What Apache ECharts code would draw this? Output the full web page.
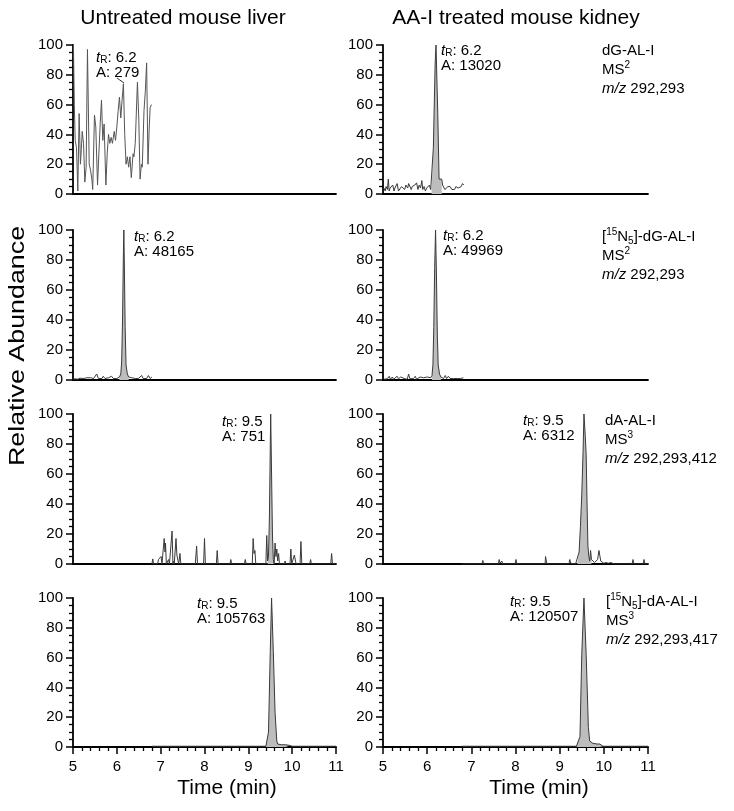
<!DOCTYPE html>
<html><head><meta charset="utf-8">
<script src="https://cdn.jsdelivr.net/npm/echarts@6/dist/echarts.min.js"></script>
<style>html,body{margin:0;padding:0;background:#fff}#c{width:734px;height:811px}</style>
</head><body><div id="c"></div>
<script>
// ---------- DATA ----------
const xTicks = [5, 6, 7, 8, 9, 10, 11];
const yTicks = [0, 20, 40, 60, 80, 100];
const columnTitles = ['Untreated mouse liver', 'AA-I treated mouse kidney'];

// Row 1: dG-AL-I, MS2
const liverDG = [[5.01,100],[5.03,60],[5.05,36],[5.08,31],[5.11,2],[5.14,54],[5.17,20],[5.19,30],[5.21,42],[5.24,34],[5.27,8],[5.30,18],[5.33,97],[5.37,20],[5.40,16],[5.43,10],[5.45,3],[5.49,53],[5.52,45],[5.56,6],[5.59,27],[5.62,47],[5.65,63],[5.68,36],[5.71,47],[5.75,6],[5.78,27],[5.81,40],[5.84,34],[5.87,38],[5.90,34],[5.94,42],[5.97,36],[6.00,45],[6.03,56],[6.06,65],[6.09,51],[6.12,63],[6.15,74],[6.18,40],[6.21,20],[6.24,25],[6.27,18],[6.30,25],[6.33,11],[6.37,27],[6.39,25],[6.42,34],[6.47,75],[6.50,51],[6.53,10],[6.56,20],[6.58,18],[6.62,56],[6.65,69],[6.68,88],[6.71,20],[6.74,45],[6.76,58],[6.79,60]];
const kidneyDG = [[5.02,4],[5.05,2],[5.07,5],[5.10,3],[5.12,10],[5.14,2],[5.16,4],[5.19,3],[5.22,6],[5.25,2],[5.27,4],[5.30,3],[5.32,7],[5.35,2],[5.38,3],[5.42,5],[5.46,5],[5.49,3],[5.52,6],[5.56,4],[5.58,7],[5.61,8],[5.64,3],[5.66,5],[5.69,4],[5.72,6],[5.76,7.5],[5.79,3],[5.82,6],[5.85,4],[5.88,9],[5.90,3],[5.93,5],[5.96,2],[5.99,4],[6.02,5],[6.05,6],[6.08,3],[6.10,4],[6.14,31],[6.18,87],[6.20,100],[6.24,54],[6.27,10],[6.30,9],[6.33,10],[6.35,6],[6.37,5],[6.40,3],[6.44,3],[6.47,5],[6.50,4],[6.52,5],[6.56,3],[6.59,4],[6.62,3],[6.65,5],[6.67,6],[6.70,4],[6.74,3],[6.77,5],[6.80,7],[6.83,6]];

// Row 2: [15N5]-dG-AL-I, MS2
const liverDGN = [[5.00,0.5],[5.05,0.8],[5.10,0.5],[5.16,1.2],[5.20,0.5],[5.25,1],[5.31,1.5],[5.35,0.8],[5.40,1.5],[5.43,2],[5.47,1],[5.50,1.5],[5.54,4],[5.58,1],[5.62,2],[5.66,1],[5.69,2.5],[5.73,1],[5.77,1.5],[5.81,1.5],[5.85,1],[5.88,2.5],[5.92,1],[5.96,2],[6.00,1],[6.04,1.5],[6.06,2],[6.09,4],[6.11,12],[6.13,40],[6.15,85],[6.16,100],[6.17,80],[6.19,35],[6.21,10],[6.24,4],[6.27,2],[6.30,1],[6.34,1.5],[6.38,0.8],[6.42,1],[6.45,2],[6.49,1],[6.53,1],[6.57,3],[6.60,1],[6.64,2],[6.68,1],[6.72,3],[6.76,1],[6.80,2]];
const kidneyDGN = [[5.02,0.5],[5.06,1],[5.10,0.8],[5.14,2.5],[5.17,0.5],[5.21,2],[5.24,0.5],[5.28,1.5],[5.32,2.5],[5.35,0.8],[5.40,2],[5.44,1],[5.48,1],[5.52,2],[5.55,0.5],[5.58,4],[5.61,0.8],[5.65,1.5],[5.69,1],[5.73,2.5],[5.76,0.5],[5.80,1.5],[5.84,2],[5.88,1],[5.92,1.5],[5.96,1],[6.00,2],[6.04,1],[6.08,1.5],[6.11,3],[6.13,10],[6.15,35],[6.17,75],[6.19,100],[6.21,70],[6.23,30],[6.25,10],[6.28,4],[6.31,2],[6.34,2.5],[6.37,1],[6.41,3],[6.44,1],[6.48,2.5],[6.52,1],[6.56,2],[6.60,1],[6.64,1.5],[6.68,1],[6.72,2],[6.76,1],[6.82,1.5]];

// Row 3: dA-AL-I, MS3
const liverDA = [[6.80,0],[6.82,3.4],[6.84,0],[6.93,0],[6.95,3],[6.97,4],[6.99,3],[7.01,5],[7.03,0],[7.06,0],[7.08,17],[7.10,8],[7.11,14],[7.13,0],[7.16,0],[7.18,3],[7.20,0],[7.24,0],[7.26,22],[7.28,0],[7.29,2],[7.31,0],[7.33,0],[7.35,17],[7.37,6],[7.39,7],[7.41,0],[7.42,2],[7.44,7],[7.46,0],[7.79,0],[7.82,12],[7.84,0],[7.98,0],[8.00,17],[8.02,0],[8.27,0],[8.29,9],[8.31,0],[8.58,0],[8.60,3],[8.62,0],[8.91,0],[8.93,3],[8.95,0],[9.09,0],[9.11,17],[9.13,7],[9.15,9],[9.17,0],[9.40,0],[9.42,19],[9.44,2],[9.46,5],[9.48,30],[9.51,100],[9.53,60],[9.55,20],[9.57,3],[9.59,0],[9.61,14],[9.63,5],[9.65,10],[9.67,2],[9.69,7],[9.71,0],[9.82,0],[9.84,2],[9.86,0],[9.95,0],[9.97,10],[9.99,0],[10.03,0],[10.05,6],[10.07,7],[10.09,0],[10.18,0],[10.20,15],[10.22,0],[10.40,0],[10.42,3],[10.44,0],[10.88,0],[10.90,7],[10.92,0],[11,0]];
const kidneyDA = [[6.78,0],[7.24,0],[7.26,2.4],[7.28,0],[7.61,0],[7.63,3],[7.65,0.5],[7.67,0.5],[7.69,2],[7.71,0],[7.99,0],[8.01,3],[8.03,0],[8.67,0],[8.68,5],[8.70,5],[8.71,0],[9.21,0],[9.23,3],[9.25,0.5],[9.36,0],[9.40,1],[9.44,8],[9.47,25],[9.50,46],[9.53,75],[9.55,100],[9.58,85],[9.60,73],[9.62,40],[9.64,12],[9.66,5],[9.68,2],[9.70,9],[9.72,3],[9.76,2],[9.79,1],[9.83,1],[9.86,3],[9.89,9],[9.91,10],[9.93,2],[9.96,1],[10.00,0.5],[10.05,1],[10.10,0.5],[10.15,1],[10.20,0.5],[10.25,0],[10.64,0],[10.66,3],[10.68,0],[10.89,0],[10.91,3],[10.93,0],[11,0]];

// Row 4: [15N5]-dA-AL-I, MS3
const liverDAN = [[6.80,0.5],[7.50,0.5],[8.50,0.5],[9.40,0.5],[9.42,1],[9.46,10],[9.50,64],[9.53,100],[9.57,64],[9.61,23],[9.65,4],[9.67,2],[9.75,1.5],[9.85,1.5],[9.95,1],[10.00,0.5],[11,0.5]];
const kidneyDAN = [[6.78,0.5],[9.38,0.5],[9.40,1],[9.46,7],[9.50,62],[9.55,100],[9.60,62],[9.65,13],[9.68,4],[9.75,2.5],[9.85,2],[9.91,2],[9.98,0.5],[11,0.5]];

// Filled peak windows (min)
const peakWindows = [[0,0],[6.10,6.33],[6.06,6.27],[6.11,6.31],[9.44,9.59],[9.38,9.72],[9.40,9.95],[9.38,9.98]];

// Annotation texts
const rtValues = ['6.2','6.2','6.2','6.2','9.5','9.5','9.5','9.5'];
const areaValues = ['279','13020','48165','49969','751','6312','105763','120507'];
const analytes = ['dG-AL-I','[{sup|15}N{sub5|5}]-dG-AL-I','dA-AL-I','[{sup|15}N{sub5|5}]-dA-AL-I'];
const msLevels = ['2','2','3','3'];
const mzValues = ['292,293','292,293','292,293,412','292,293,417'];

// ---------- CHART ----------
const traces = [liverDG, kidneyDG, liverDGN, kidneyDGN, liverDA, kidneyDA, liverDAN, kidneyDAN];
const F = '"Liberation Sans", Arial, Helvetica, sans-serif';
const rowTop = [45, 230, 414, 598];
const rowH = [149, 150, 150, 149];
const colLeft = [73, 383];
const colW = [263, 265];

const grids = [], xAxes = [], yAxes = [], series = [];
for (let i = 0; i < 8; i++) {
  const r = Math.floor(i / 2), c = i % 2;
  const bottom = r === 3;
  grids.push({left: colLeft[c], top: rowTop[r], width: colW[c], height: rowH[r]});
  xAxes.push({
    gridIndex: i, type: 'value', min: xTicks[0], max: xTicks[xTicks.length-1], interval: 1,
    axisLine: {show: true, onZero: false, lineStyle: {color: '#000', width: 1.8}},
    axisTick: {show: bottom, length: 7, lineStyle: {color: '#000', width: 1.5}},
    minorTick: {show: bottom, splitNumber: 5, length: 4, lineStyle: {color: '#000', width: 1.3}},
    axisLabel: {show: bottom, fontSize: 15, color: '#000', margin: 12, fontFamily: F},
    splitLine: {show: false}
  });
  yAxes.push({
    gridIndex: i, type: 'value', min: yTicks[0], max: yTicks[yTicks.length-1], interval: 20,
    axisLine: {show: true, onZero: false, lineStyle: {color: '#000', width: 1.8}},
    axisTick: {show: true, length: 7, lineStyle: {color: '#000', width: 1.5}},
    minorTick: {show: true, splitNumber: 4, length: 4, lineStyle: {color: '#000', width: 1.3}},
    axisLabel: {fontSize: 15, color: '#000', margin: 10, fontFamily: F},
    splitLine: {show: false}
  });
  const w = peakWindows[i];
  if (w[1] > w[0]) {
    series.push({
      type: 'line', xAxisIndex: i, yAxisIndex: i, symbol: 'none', silent: true, z: 2,
      data: traces[i].filter(p => p[0] >= w[0] && p[0] <= w[1]),
      lineStyle: {width: 0}, areaStyle: {color: '#bdbdbd', opacity: 1}
    });
  }
  series.push({
    type: 'line', xAxisIndex: i, yAxisIndex: i, symbol: 'none', silent: true, z: 3,
    data: traces[i],
    lineStyle: {color: i === 0 ? '#555' : '#3a3a3a', width: 1}
  });
}

const rich = {
  it: {fontStyle: 'italic', fontSize: 15, fontFamily: F, fill: '#000'},
  sub: {fontSize: 10, fontFamily: F, lineHeight: 4, verticalAlign: 'bottom', fill: '#000'},
  sub5: {fontSize: 10, fontFamily: F, lineHeight: 4, verticalAlign: 'bottom', fill: '#000'},
  sup: {fontSize: 10, fontFamily: F, lineHeight: 10, verticalAlign: 'top', fill: '#000'}
};
// annotation positions [x, y] (top-left)
const annPos = [[96,50],[441,43],[134,229],[443,228],[222,414],[523,413],[197,596],[510,594]];
const infoPos = [[602,41],[602,227],[605,411],[606,592]];

const graphic = [];
for (let i = 0; i < 8; i++) {
  graphic.push({type: 'text', x: annPos[i][0], y: annPos[i][1], silent: true,
    style: {text: '{it|t}{sub|R}: ' + rtValues[i] + '\nA: ' + areaValues[i],
      rich, fontSize: 15, fontFamily: F, lineHeight: 15, fill: '#000'}});
}
for (let k = 0; k < 4; k++) {
  graphic.push({type: 'text', x: infoPos[k][0], y: infoPos[k][1], silent: true,
    style: {text: analytes[k] + '\nMS{sup|' + msLevels[k] + '}\n{it|m/z} ' + mzValues[k],
      rich, fontSize: 15, fontFamily: F, lineHeight: 19, fill: '#000'}});
}
// leader line for weak-signal annotation
graphic.push({type: 'line', silent: true, shape: {x1: 117, y1: 78, x2: 124, y2: 83}, style: {stroke: '#000', lineWidth: 0.8}});
// column titles
graphic.push({type: 'text', x: 183, y: 18, silent: true, style: {text: columnTitles[0], fontSize: 21, fontFamily: F, fill: '#000', align: 'center', verticalAlign: 'middle'}});
graphic.push({type: 'text', x: 516, y: 18, silent: true, style: {text: columnTitles[1], fontSize: 21, fontFamily: F, fill: '#000', align: 'center', verticalAlign: 'middle'}});
// axis titles
graphic.push({type: 'text', x: 227, y: 788, silent: true, style: {text: 'Time (min)', fontSize: 21, fontFamily: F, fill: '#000', align: 'center', verticalAlign: 'middle'}});
graphic.push({type: 'text', x: 539, y: 788, silent: true, style: {text: 'Time (min)', fontSize: 21, fontFamily: F, fill: '#000', align: 'center', verticalAlign: 'middle'}});
graphic.push({type: 'text', x: 18, y: 346, rotation: Math.PI / 2, scaleX: 1.22, silent: true, style: {text: 'Relative Abundance', fontSize: 22, fontFamily: F, fill: '#000', align: 'center', verticalAlign: 'middle'}});

const chart = echarts.init(document.getElementById('c'), null, {renderer: 'canvas'});
chart.setOption({
  animation: false,
  backgroundColor: '#fff',
  grid: grids, xAxis: xAxes, yAxis: yAxes, series, graphic
});
</script></body></html>
